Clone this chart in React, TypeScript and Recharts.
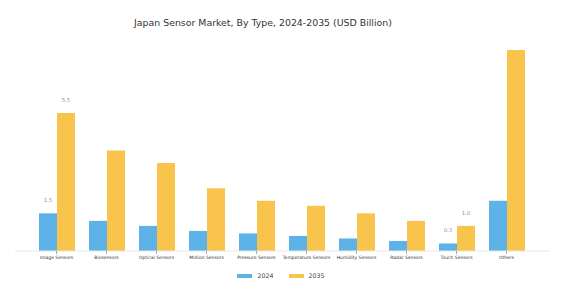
import React from "react";
import { BarChart, Bar, XAxis, YAxis, Legend, LabelList } from "recharts";

const categories = [
  "Image Sensors",
  "Biosensors",
  "Optical Sensors",
  "Motion Sensors",
  "Pressure Sensors",
  "Temperature Sensors",
  "Humidity Sensors",
  "Radar Sensors",
  "Touch Sensors",
  "Others",
];
const values2024 = [1.5, 1.2, 1.0, 0.8, 0.7, 0.6, 0.5, 0.4, 0.3, 2.0];
const values2035 = [5.5, 4.0, 3.5, 2.5, 2.0, 1.8, 1.5, 1.2, 1.0, 8.0];
const labels2024 = ["1.5", "", "", "", "", "", "", "", "0.3", ""];
const labels2035 = ["5.5", "", "", "", "", "", "", "", "1.0", ""];

const data = categories.map((c, i) => ({
  name: c,
  y2024: values2024[i],
  y2035: values2035[i],
  l2024: labels2024[i],
  l2035: labels2035[i],
}));

const BLUE = "#5DB3E7";
const YELLOW = "#F9C44B";
const FONT = "'DejaVu Sans', sans-serif";

const makeLabel = (labels: string[]) => (props: any) => {
  const { x, y, width, index } = props;
  const t = labels[index];
  if (!t) return null;
  return (
    <text
      x={Number(x) + Number(width) / 2}
      y={Number(y) - 13}
      textAnchor="middle"
      dominantBaseline="central"
      fontSize={5.5}
      fill="#999"
      fontFamily={FONT}
    >
      {t}
    </text>
  );
};

const LegendContent = () => (
  <div
    style={{
      display: "flex",
      justifyContent: "center",
      alignItems: "center",
      fontFamily: FONT,
      fontSize: 6.3,
      color: "#444",
      paddingLeft: 1,
    }}
  >
    <span style={{ display: "inline-block", width: 15, height: 4, background: BLUE, marginRight: 5 }} />
    <span>2024</span>
    <span style={{ display: "inline-block", width: 15, height: 4, background: YELLOW, marginLeft: 15, marginRight: 5 }} />
    <span>2035</span>
  </div>
);

export default function App() {
  return (
    <div style={{ position: "absolute", left: 0, top: 0, width: 561, height: 305, background: "#fff" }}>
      <div
        style={{
          position: "absolute",
          left: 0,
          top: 17,
          width: 526,
          textAlign: "center",
          fontFamily: FONT,
          fontSize: 9.4,
          color: "#333",
          whiteSpace: "nowrap",
        }}
      >
        Japan Sensor Market, By Type, 2024-2035 (USD Billion)
      </div>
      <BarChart
        width={561}
        height={305}
        data={data}
        margin={{ top: 25, right: 11, bottom: 24, left: 15 }}
        barCategoryGap="15%"
        barGap={0}
      >
        <XAxis
          dataKey="name"
          interval={0}
          padding={{ left: 16.5, right: 18.5 }}
          stroke="#e6e6e6"
          tickLine={{ stroke: "#aaa" }}
          tickSize={3}
          height={20}
          tick={{ fontSize: 4.5, fill: "#333", fontFamily: FONT }}
        />
        <YAxis hide domain={[0, 9]} />
        <Legend
          content={<LegendContent />}
          wrapperStyle={{ position: "absolute", top: 272, left: 0, width: 561, height: 10 }}
        />
        <Bar dataKey="y2024" fill={BLUE} isAnimationActive={false}>
          <LabelList dataKey="l2024" content={makeLabel(labels2024)} />
        </Bar>
        <Bar dataKey="y2035" fill={YELLOW} isAnimationActive={false}>
          <LabelList dataKey="l2035" content={makeLabel(labels2035)} />
        </Bar>
      </BarChart>
    </div>
  );
}
